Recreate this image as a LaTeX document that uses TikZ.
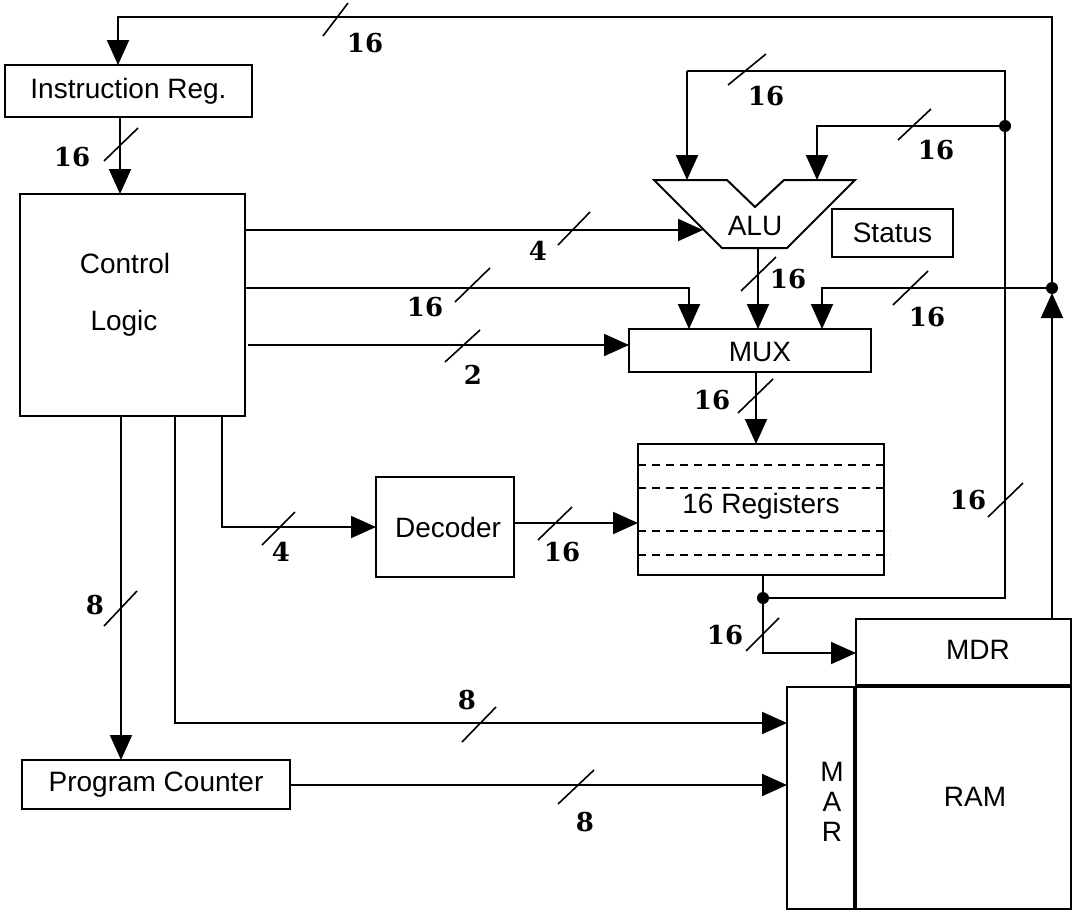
\documentclass[tikz,border=0pt]{standalone}
\usepackage{fontspec}
\setmainfont{Liberation Sans}
\newfontfamily\lblfont{DejaVu Serif}
\usetikzlibrary{arrows.meta}
\begin{document}
\begin{tikzpicture}[x=1pt,y=-1pt,
  box/.style={draw,line width=2pt,inner sep=0pt,outer sep=0pt,font=\fontsize{28}{30}\selectfont},
  txt/.style={inner sep=0pt,font=\fontsize{28}{30}\selectfont,align=center},
  wire/.style={line width=2pt},
  arr/.style={line width=2pt,-{Triangle[length=25pt,width=22pt]}},
  slash/.style={line width=1.6pt},
  lbl/.style={inner sep=0pt,font=\lblfont\bfseries\fontsize{26}{28}\selectfont},
  dot/.style={circle,fill,inner sep=0pt,minimum size=12pt}
]
\useasboundingbox[fill=white] (0,0) rectangle (1076,913);

% boxes
\node[box,minimum width=247pt,minimum height=52pt] (ir) at (128.5,91) {Instruction Reg.};
\node[box,minimum width=225pt,minimum height=222pt] (cl) at (132.5,305) {};
\node[txt] (clt1) at (125,263) {Control};
\node[txt] (clt2) at (124,323) {Logic};
\node[box,minimum width=121pt,minimum height=48pt] (status) at (892.5,233) {Status};
\node[box,minimum width=242pt,minimum height=43pt] (mux) at (750,350.5) {};
\node[txt] (muxt) at (760,352) {MUX};
\node[box,minimum width=246pt,minimum height=131pt] (regs) at (761,509.5) {};
\node[txt] (regst) at (761,506) {16 Registers};
\node[box,minimum width=138pt,minimum height=100pt] (dec) at (445,527) {};
\node[txt] (dect) at (448,527) {Decoder};
\node[box,minimum width=268pt,minimum height=49pt] (pc) at (156,784.5) {Program Counter};
\node[box,minimum width=215pt,minimum height=67pt] (mdr) at (963.5,652.5) {};
\node[txt] (mdrt) at (978,650) {MDR};
\node[box,minimum width=68pt,minimum height=222pt] (mar) at (821,798) {};
\node[txt] (mart) at (832,802) {M\\A\\R};
\node[box,minimum width=216pt,minimum height=222pt] (ram) at (963,798) {};
\node[txt] (ramt) at (975,797) {RAM};
\draw[line width=4.5pt] (mdr.south west) -- (mdr.south east);
\draw[line width=4.5pt] (ram.north west) -- (ram.south west);

% registers dashed lines
\draw[line width=1.5pt,dash pattern=on 8pt off 6pt] (regs.west |- 0,465) -- (regs.east |- 0,465);
\draw[line width=1.5pt,dash pattern=on 8pt off 6pt] (regs.west |- 0,488) -- (regs.east |- 0,488);
\draw[line width=1.5pt,dash pattern=on 8pt off 6pt] (regs.west |- 0,531) -- (890,531);
\draw[line width=1.5pt,dash pattern=on 8pt off 6pt] (regs.west |- 0,555) -- (890,555);

% ALU
\draw[line width=2pt,line join=miter] (654,180) -- (727,180) -- (755,207) -- (784,180) -- (855,180) -- (787,248) -- (722,248) -- cycle;
\node[txt] (alut) at (755,226) {ALU};
\coordinate (aluA) at (687,180);
\coordinate (aluB) at (817,180);
\coordinate (aluC) at (703,230);
\coordinate (aluOut) at (758,248);

% junction dots
\coordinate (dotR) at (1052,288);
\coordinate (dotT) at (1005,126);
\coordinate (dotB) at (763,598);
\node[dot] at (dotR) {};
\node[dot] at (dotT) {};
\node[dot] at (dotB) {};

% connectors
\coordinate (mdrout) at (1052,619);
\draw[arr] (mdrout) -- (1052,293);
\draw[arr] (dotR) -- (1052,17) -- (118,17) -- (118,65);
\draw[arr] (ir.south -| 120,0) -- (cl.north -| 120,0);
\draw[arr] (dotR) -- (822,288) -- (822,329);
\draw[wire] (regs.south -| dotB) -- (dotB) -- (1005,598) -- (1005,71) -- (687,71);
\draw[arr] (687,71) -- (aluA);
\draw[arr] (dotT) -- (817,126) -- (aluB);
\draw[arr] (dotB) -- (763,653) -- (mdr.west |- 0,653);
\draw[arr] (aluOut) -- (mux.north -| aluOut);
\draw[arr] (cl.east |- 0,230) -- (aluC);
\draw[arr] (cl.east |- 0,288) -- (689,288) -- (689,329);
\draw[arr] (248,345) -- (mux.west |- 0,345);
\draw[arr] (cl.south -| 222,0) -- (222,527) -- (dec.west |- 0,527);
\draw[arr] (dec.east |- 0,523) -- (regs.west |- 0,523);
\draw[arr] (mux.south -| 756,0) -- (regs.north -| 756,0);
\draw[arr] (cl.south -| 121,0) -- (pc.north -| 121,0);
\draw[arr] (cl.south -| 175,0) -- (175,723) -- (mar.west |- 0,723);
\draw[arr] (pc.east |- 0,785) -- (mar.west |- 0,785);

% bus width slashes and labels
\draw[slash] (323,36) -- (348,3);    \node[lbl] at (365,43) {16};
\draw[slash] (104,161) -- (138,128); \node[lbl] at (72,157) {16};
\draw[slash] (728,85) -- (766,54);   \node[lbl] at (766,96) {16};
\draw[slash] (898,140) -- (931,109); \node[lbl] at (936,150) {16};
\draw[slash] (741,291) -- (776,257); \node[lbl] at (788,279) {16};
\draw[slash] (893,305) -- (928,271); \node[lbl] at (927,317) {16};
\draw[slash] (738,413) -- (773,379); \node[lbl] at (712,400) {16};
\draw[slash] (988,517) -- (1023,483);\node[lbl] at (968,500) {16};
\draw[slash] (746,651) -- (779,618); \node[lbl] at (725,635) {16};
\draw[slash] (558,245) -- (590,212); \node[lbl] at (538,251) {4};
\draw[slash] (455,302) -- (490,268); \node[lbl] at (425,307) {16};
\draw[slash] (445,362) -- (480,330); \node[lbl] at (473,375) {2};
\draw[slash] (262,545) -- (295,512); \node[lbl] at (281,552) {4};
\draw[slash] (538,540) -- (572,507); \node[lbl] at (562,552) {16};
\draw[slash] (104,626) -- (137,591); \node[lbl] at (95,605) {8};
\draw[slash] (462,742) -- (496,707); \node[lbl] at (467,700) {8};
\draw[slash] (558,804) -- (594,770); \node[lbl] at (585,822) {8};
\end{tikzpicture}
\end{document}
